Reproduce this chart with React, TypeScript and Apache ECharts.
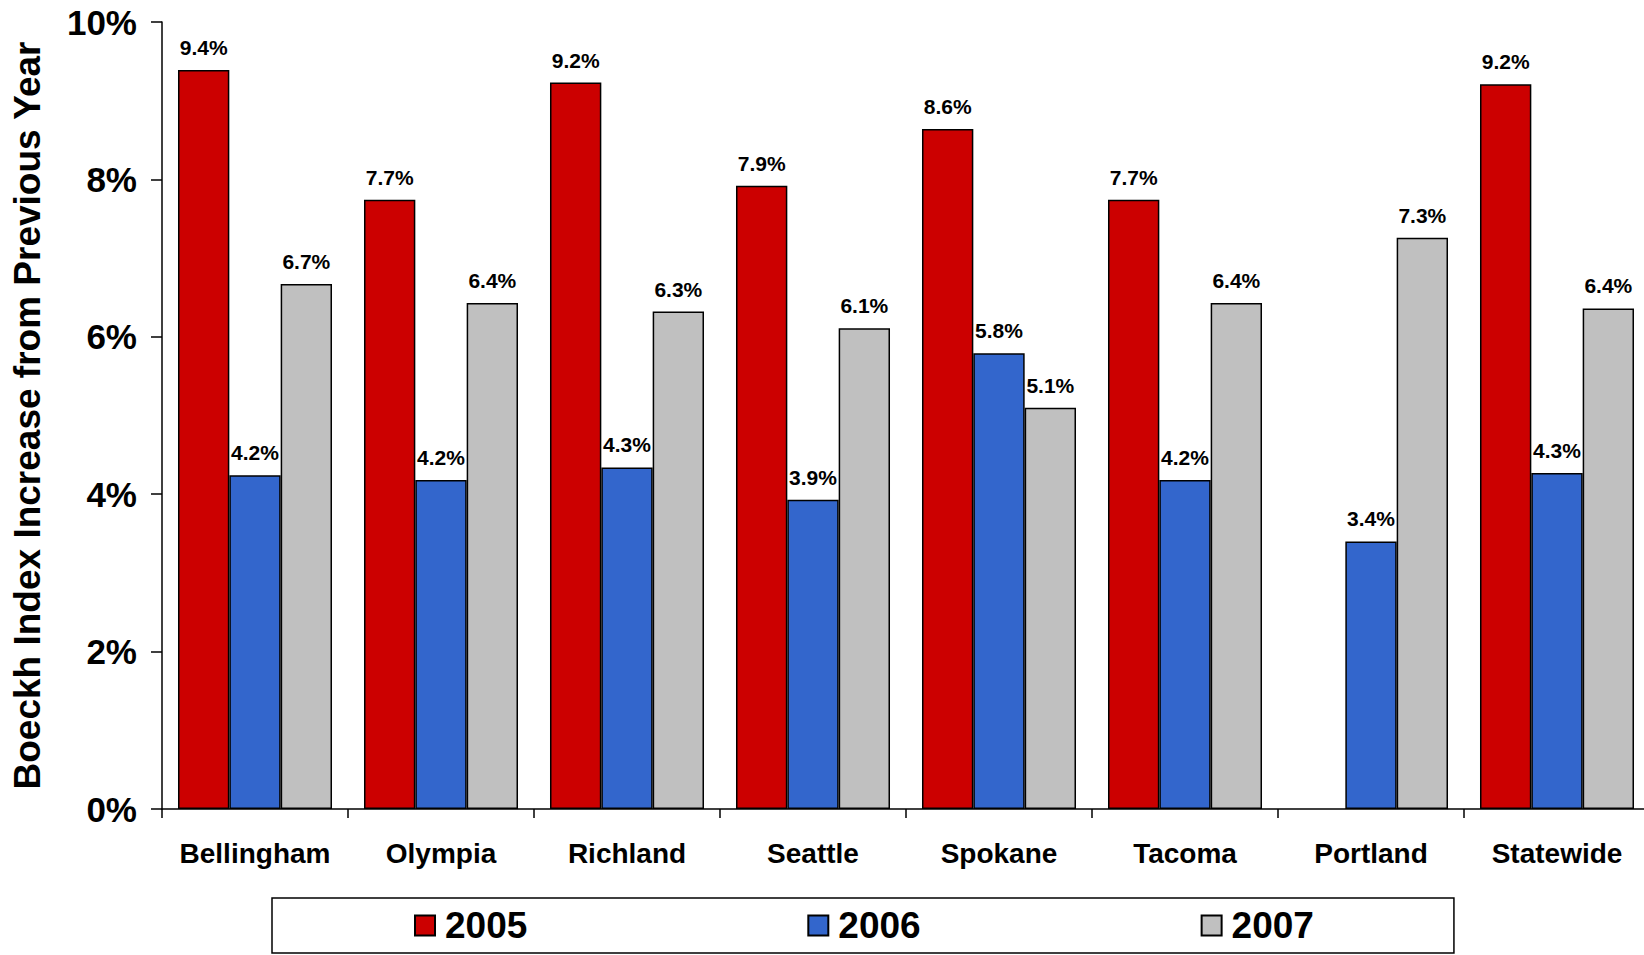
import React, { useEffect, useRef } from "react";
import * as echarts from "echarts";

const categories = ["Bellingham", "Olympia", "Richland", "Seattle", "Spokane", "Tacoma", "Portland", "Statewide"];
const values2005 = [9.39, 7.74, 9.23, 7.92, 8.64, 7.74, null, 9.21];
const values2006 = [4.24, 4.18, 4.34, 3.93, 5.79, 4.18, 3.4, 4.27];
const values2007 = [6.67, 6.43, 6.32, 6.11, 5.1, 6.43, 7.26, 6.36];
const seriesNames = ["2005", "2006", "2007"];
const yTicks = [0, 2, 4, 6, 8, 10];

const FONT = "'Liberation Sans', Arial, sans-serif";

export default function App() {
  const ref = useRef<HTMLDivElement>(null);
  useEffect(() => {
    if (!ref.current) return;
    const chart = echarts.init(ref.current, null, { renderer: "svg" });
    const colors = ["#CC0000", "#3366CC", "#C0C0C0"];
    const all = [values2005, values2006, values2007];
    chart.setOption({
      animation: false,
      backgroundColor: "#fff",
      textStyle: { fontFamily: FONT },
      grid: { left: 162, right: -6, top: 22, bottom: 146, containLabel: false, outerBoundsMode: "none" },
      legend: {
        data: seriesNames,
        left: 272,
        bottom: 2,
        orient: "horizontal",
        itemWidth: 20,
        itemHeight: 20,
        itemGap: 280,
        padding: [9, 140, 9, 142],
        borderColor: "#000",
        borderWidth: 1.5,
        icon: "rect",
        textStyle: { fontFamily: FONT, fontWeight: "bold", fontSize: 37, color: "#000", padding: [0, 0, 0, 5] },
      },
      xAxis: {
        type: "category",
        data: categories,
        axisLine: { lineStyle: { color: "#000", width: 1.5 } },
        axisTick: { show: true, length: 9, alignWithLabel: false, lineStyle: { color: "#000", width: 1.5 } },
        axisLabel: { color: "#000", fontWeight: "bold", fontSize: 28, fontFamily: FONT, margin: 30, interval: 0 },
      },
      yAxis: {
        type: "value",
        min: yTicks[0],
        max: yTicks[yTicks.length - 1],
        interval: 2,
        name: "Boeckh Index Increase from Previous Year",
        nameLocation: "middle",
        nameGap: 116,
        nameRotate: 90,
        nameTextStyle: { color: "#000", fontWeight: "bold", fontSize: 37, fontFamily: FONT },
        splitLine: { show: false },
        axisLine: { show: true, lineStyle: { color: "#000", width: 1.5 } },
        axisTick: { show: true, length: 11, lineStyle: { color: "#000", width: 1.5 } },
        axisLabel: { color: "#000", fontWeight: "bold", fontSize: 35, fontFamily: FONT, margin: 25, formatter: "{value}%" },
      },
      series: all.map((vals, i) => ({
        name: seriesNames[i],
        type: "bar",
        data: vals,
        barGap: "0%",
        barCategoryGap: "17.2%",
        itemStyle: { color: colors[i], borderColor: "#000", borderWidth: 1.5 },
        label: {
          show: true,
          position: "top",
          distance: 12,
          color: "#000",
          fontWeight: "bold",
          fontSize: 21,
          fontFamily: FONT,
          formatter: (p: any) => (p.value == null ? "" : Number(p.value).toFixed(1) + "%"),
        },
      })),
    });
    return () => chart.dispose();
  }, []);
  return <div ref={ref} style={{ width: 1644, height: 955, position: "absolute", left: 0, top: 0 }} />;
}
